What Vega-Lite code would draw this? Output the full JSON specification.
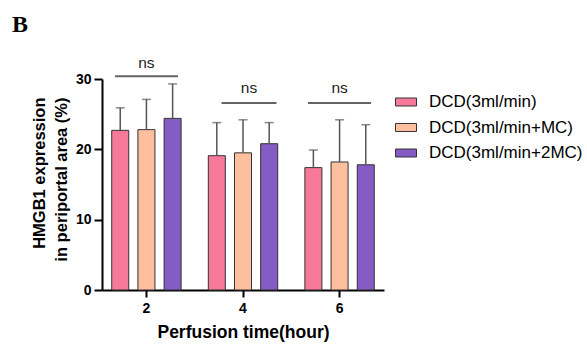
{
  "$schema": "https://vega.github.io/schema/vega-lite/v6.json",
  "autosize": "none",
  "width": 282,
  "height": 211,
  "padding": {"left": 102, "top": 79, "right": 203, "bottom": 58},
  "background": "white",
  "title": {"text": "B", "font": "Liberation Serif", "fontSize": 24, "fontWeight": "bold", "color": "black", "anchor": "start", "frame": "group", "dx": -90, "dy": 0, "baseline": "alphabetic", "offset": 0},
  "config": {
    "view": {"stroke": null},
    "axis": {"grid": false, "domainColor": "black", "domainWidth": 2, "tickColor": "black", "tickWidth": 2, "labelFont": "Liberation Sans", "labelFontWeight": "bold", "labelFontSize": 14, "labelColor": "black", "titleFont": "Liberation Sans", "titleFontWeight": "bold", "titleColor": "black"},
    "legend": {"labelFont": "Liberation Sans", "labelFontSize": 17, "labelColor": "black"}
  },
  "datasets": {
    "bars": [
      {"time": "2", "group": "DCD(3ml/min)", "mean": 22.7, "upper": 25.9},
      {"time": "2", "group": "DCD(3ml/min+MC)", "mean": 22.8, "upper": 27.1},
      {"time": "2", "group": "DCD(3ml/min+2MC)", "mean": 24.4, "upper": 29.3},
      {"time": "4", "group": "DCD(3ml/min)", "mean": 19.1, "upper": 23.8},
      {"time": "4", "group": "DCD(3ml/min+MC)", "mean": 19.5, "upper": 24.2},
      {"time": "4", "group": "DCD(3ml/min+2MC)", "mean": 20.8, "upper": 23.8},
      {"time": "6", "group": "DCD(3ml/min)", "mean": 17.4, "upper": 19.9},
      {"time": "6", "group": "DCD(3ml/min+MC)", "mean": 18.2, "upper": 24.2},
      {"time": "6", "group": "DCD(3ml/min+2MC)", "mean": 17.8, "upper": 23.5}
    ],
    "ns": [
      {"time": "2", "line": 30.4, "textY": 32.3, "label": "ns"},
      {"time": "4", "line": 26.6, "textY": 28.7, "label": "ns"},
      {"time": "6", "line": 26.6, "textY": 28.7, "label": "ns"}
    ]
  },
  "encoding": {
    "x": {"field": "time", "type": "nominal", "sort": ["2", "4", "6"],
      "scale": {"paddingInner": 0.2, "paddingOuter": 0.06},
      "axis": {"title": "Perfusion time(hour)", "titleFontSize": 17.5, "titlePadding": 8, "labelAngle": 0, "tickSize": 7, "labelPadding": 4}}
  },
  "layer": [
    {
      "data": {"name": "bars"},
      "mark": {"type": "bar", "stroke": "#333333", "strokeWidth": 1},
      "encoding": {
        "xOffset": {"field": "group", "type": "nominal", "sort": ["DCD(3ml/min)", "DCD(3ml/min+MC)", "DCD(3ml/min+2MC)"], "scale": {"paddingInner": 0.35, "paddingOuter": 0.15}},
        "y": {"field": "mean", "type": "quantitative", "scale": {"domain": [0, 30], "nice": false},
          "axis": {"values": [0, 10, 20, 30], "title": ["HMGB1 expression", "in periportal area (%)"], "titleFontSize": 16.5, "titleLineHeight": 22, "titlePadding": 6, "titleAlign": "right", "titleY": 18, "tickSize": 8, "labelPadding": 3,
            "encode": {"title": {"update": {"lineHeight": {"value": 22}}}}}},
        "color": {"field": "group", "type": "nominal",
          "scale": {"domain": ["DCD(3ml/min)", "DCD(3ml/min+MC)", "DCD(3ml/min+2MC)"], "range": ["#F7799A", "#FDBF9E", "#855CC3"]},
          "legend": {"title": null, "orient": "none", "legendX": 293, "legendY": 12, "symbolType": "M-1,-0.38H1V0.38H-1Z", "symbolSize": 441, "symbolStrokeColor": "#333333", "symbolStrokeWidth": 1, "symbolOpacity": 1, "rowPadding": 6.5, "labelOffset": 12}}
      }
    },
    {
      "data": {"name": "bars"},
      "mark": {"type": "rule", "color": "#555555", "strokeWidth": 1.5},
      "encoding": {
        "xOffset": {"field": "group", "type": "nominal", "sort": ["DCD(3ml/min)", "DCD(3ml/min+MC)", "DCD(3ml/min+2MC)"]},
        "y": {"field": "mean", "type": "quantitative"},
        "y2": {"field": "upper"}
      }
    },
    {
      "data": {"name": "bars"},
      "mark": {"type": "tick", "color": "#555555", "thickness": 1.5, "size": 9},
      "encoding": {
        "xOffset": {"field": "group", "type": "nominal", "sort": ["DCD(3ml/min)", "DCD(3ml/min+MC)", "DCD(3ml/min+2MC)"]},
        "y": {"field": "upper", "type": "quantitative"}
      }
    },
    {
      "data": {"name": "ns"},
      "transform": [{"filter": "datum.time != '4'"}],
      "mark": {"type": "tick", "color": "#222222", "thickness": 2, "size": 63},
      "encoding": {"y": {"field": "line", "type": "quantitative"}}
    },
    {
      "data": {"name": "ns"},
      "transform": [{"filter": "datum.time == '4'"}],
      "mark": {"type": "tick", "color": "#222222", "thickness": 2, "size": 55, "xOffset": 6},
      "encoding": {"y": {"field": "line", "type": "quantitative"}}
    },
    {
      "data": {"name": "ns"},
      "transform": [{"filter": "datum.time != '4'"}],
      "mark": {"type": "text", "font": "Liberation Sans", "fontSize": 15.5, "color": "#222222", "baseline": "middle"},
      "encoding": {
        "y": {"field": "textY", "type": "quantitative"},
        "text": {"field": "label"}
      }
    },
    {
      "data": {"name": "ns"},
      "transform": [{"filter": "datum.time == '4'"}],
      "mark": {"type": "text", "font": "Liberation Sans", "fontSize": 15.5, "color": "#222222", "baseline": "middle", "dx": 6},
      "encoding": {
        "y": {"field": "textY", "type": "quantitative"},
        "text": {"field": "label"}
      }
    }
  ]
}
